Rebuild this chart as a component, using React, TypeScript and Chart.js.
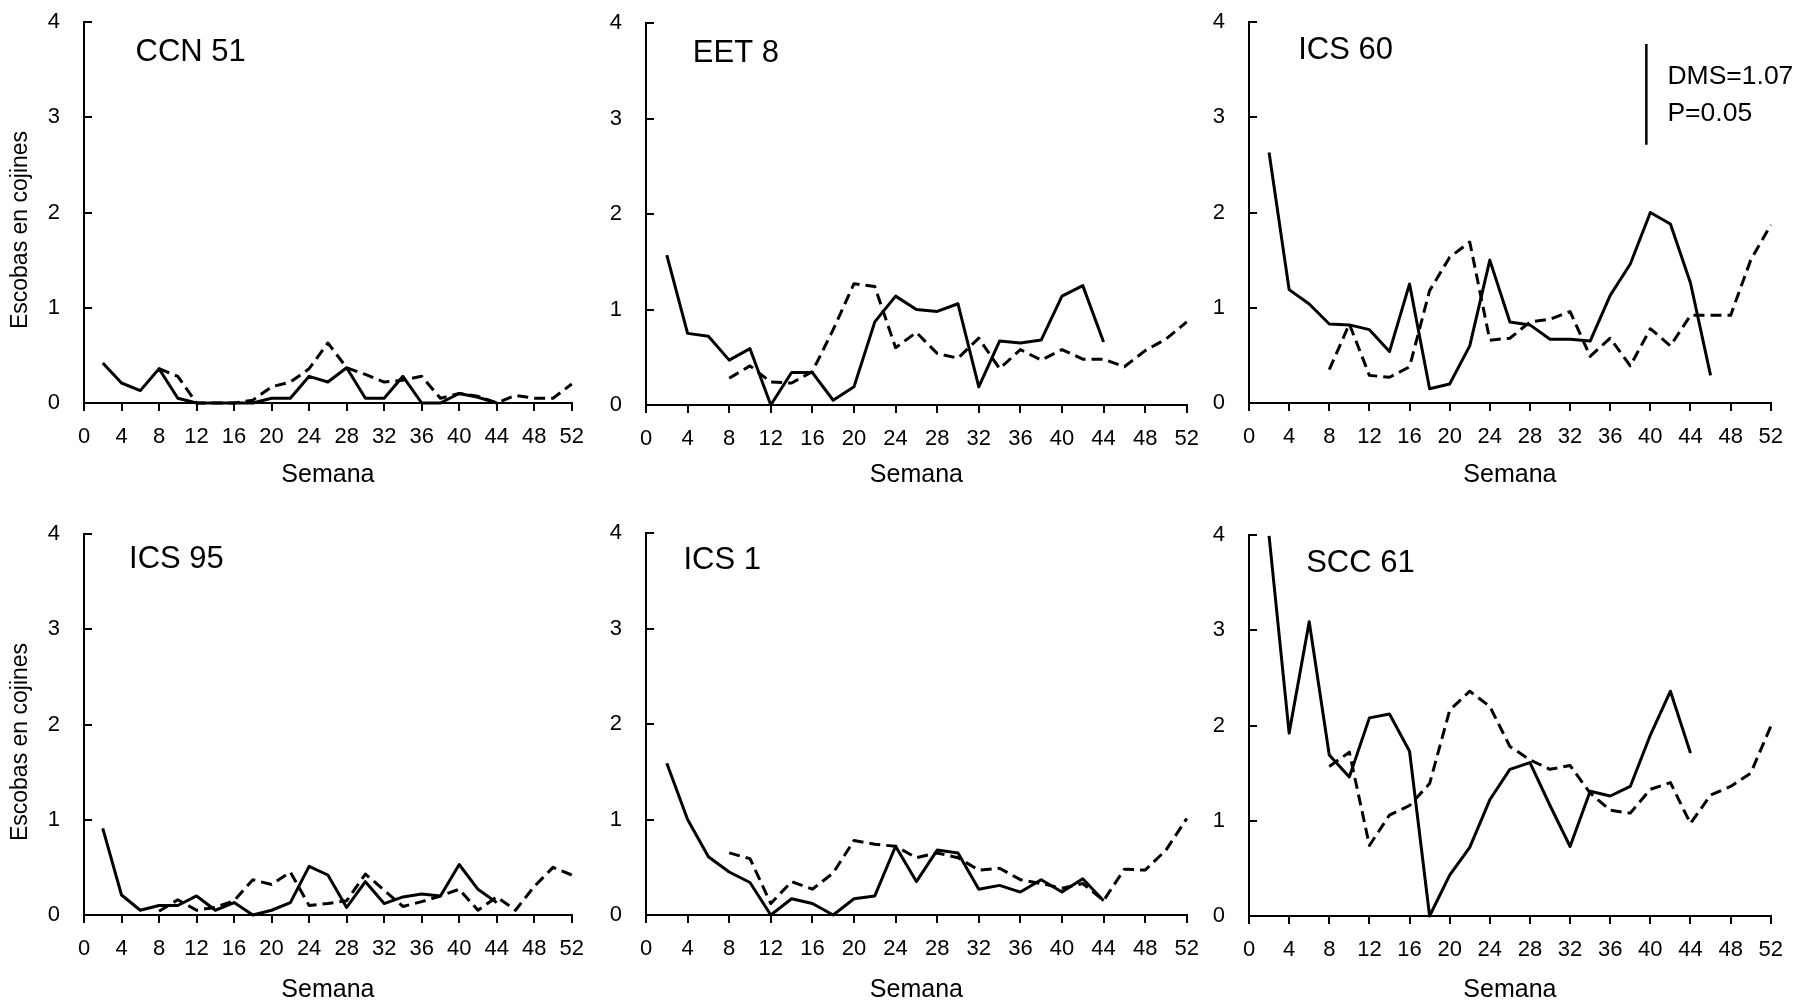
import React, { useEffect, useRef } from "react";
import { Chart, registerables } from "chart.js";

Chart.register(...registerables);

const FONT = "'Liberation Sans', Arial, sans-serif";

// ---------- data ----------
const xTicks = [0, 4, 8, 12, 16, 20, 24, 28, 32, 36, 40, 44, 48, 52];
const yTicks = [0, 1, 2, 3, 4];

const solidWeeks = [2, 4, 6, 8, 10, 12, 14, 16, 18, 20, 22, 24, 26, 28, 30, 32, 34, 36, 38, 40, 42, 44];
const solidWeeksLong = [2, 4, 6, 8, 10, 12, 14, 16, 18, 20, 22, 24, 26, 28, 30, 32, 34, 36, 38, 40, 42, 44, 46];
const dashedWeeks = [8, 10, 12, 14, 16, 18, 20, 22, 24, 26, 28, 30, 32, 34, 36, 38, 40, 42, 44, 46, 48, 50, 52];

const panelTitles = ["CCN 51", "EET 8", "ICS 60", "ICS 95", "ICS 1", "SCC 61"];

const ccn51Solid = [0.42, 0.21, 0.13, 0.36, 0.05, 0, 0, 0, 0, 0.05, 0.05, 0.28, 0.22, 0.37, 0.05, 0.05, 0.28, 0, 0, 0.1, 0.06, 0];
const ccn51Dashed = [0.36, 0.28, 0, 0, 0, 0.03, 0.17, 0.22, 0.36, 0.63, 0.37, 0.3, 0.22, 0.24, 0.28, 0.05, 0.1, 0.07, 0, 0.08, 0.05, 0.05, 0.2];

const eet8Solid = [1.57, 0.75, 0.72, 0.47, 0.59, 0, 0.34, 0.34, 0.05, 0.19, 0.87, 1.14, 1.0, 0.98, 1.06, 0.19, 0.67, 0.65, 0.68, 1.14, 1.25, 0.66];
const eet8Dashed = [0.28, 0.41, 0.24, 0.23, 0.35, 0.79, 1.27, 1.24, 0.6, 0.76, 0.54, 0.49, 0.7, 0.38, 0.58, 0.47, 0.58, 0.48, 0.48, 0.4, 0.57, 0.69, 0.87];

const ics60Solid = [2.63, 1.19, 1.04, 0.83, 0.82, 0.77, 0.54, 1.25, 0.15, 0.2, 0.6, 1.5, 0.85, 0.82, 0.67, 0.67, 0.65, 1.13, 1.46, 2.0, 1.88, 1.26, 0.29];
const ics60Dashed = [0.35, 0.83, 0.29, 0.27, 0.38, 1.18, 1.53, 1.69, 0.66, 0.68, 0.85, 0.88, 0.96, 0.49, 0.68, 0.39, 0.78, 0.6, 0.92, 0.92, 0.92, 1.5, 1.87];

const ics95Solid = [0.91, 0.21, 0.05, 0.1, 0.1, 0.2, 0.05, 0.13, 0, 0.05, 0.13, 0.51, 0.42, 0.08, 0.35, 0.12, 0.19, 0.22, 0.2, 0.53, 0.27, 0.13];
const ics95Dashed = [0.04, 0.16, 0.05, 0.08, 0.15, 0.37, 0.32, 0.45, 0.1, 0.12, 0.15, 0.43, 0.26, 0.09, 0.14, 0.2, 0.27, 0.05, 0.19, 0.05, 0.3, 0.5, 0.42];

const ics1Solid = [1.59, 1.0, 0.61, 0.45, 0.34, 0, 0.17, 0.12, 0, 0.17, 0.2, 0.72, 0.35, 0.68, 0.65, 0.27, 0.31, 0.24, 0.37, 0.24, 0.38, 0.15];
const ics1Dashed = [0.65, 0.59, 0.12, 0.35, 0.27, 0.44, 0.78, 0.74, 0.72, 0.6, 0.65, 0.6, 0.47, 0.49, 0.37, 0.33, 0.28, 0.33, 0.15, 0.48, 0.47, 0.68, 1.01];

const scc61Solid = [3.99, 1.92, 3.09, 1.69, 1.46, 2.08, 2.12, 1.73, 0, 0.43, 0.72, 1.22, 1.54, 1.61, 1.16, 0.73, 1.31, 1.26, 1.36, 1.9, 2.36, 1.71];
const scc61Dashed = [1.57, 1.72, 0.74, 1.06, 1.16, 1.39, 2.16, 2.36, 2.2, 1.78, 1.64, 1.54, 1.58, 1.29, 1.11, 1.08, 1.33, 1.4, 0.97, 1.27, 1.36, 1.5, 1.99];

const dmsBarWeeks = [39.6, 39.6];
const dmsBarValues = [2.71, 3.77];
const dmsLabels = ["DMS=1.07", "P=0.05"];

const xAxisTitle = "Semana";
const yAxisTitle = "Escobas en cojines";

// ---------- layout ----------
const YW = 81;
const PR = 25;
const PT = 38;

type Panel = {
  title: string;
  solidW: number[];
  solid: number[];
  dashed: number[];
  L: number; R: number; T: number; B: number;
  XH: number;
  tw: number; tv: number;
  yTitle: boolean;
  dms: boolean;
};

const panels: Panel[] = [
  { title: panelTitles[0], solidW: solidWeeks, solid: ccn51Solid, dashed: ccn51Dashed, L: 84, R: 572, T: 22, B: 403, XH: 91, tw: 5.5, tv: 3.68, yTitle: true, dms: false },
  { title: panelTitles[1], solidW: solidWeeks, solid: eet8Solid, dashed: eet8Dashed, L: 646, R: 1187, T: 23, B: 405, XH: 89, tw: 4.5, tv: 3.68, yTitle: false, dms: false },
  { title: panelTitles[2], solidW: solidWeeksLong, solid: ics60Solid, dashed: ics60Dashed, L: 1249, R: 1771, T: 22, B: 403, XH: 91, tw: 4.9, tv: 3.7, yTitle: false, dms: true },
  { title: panelTitles[3], solidW: solidWeeks, solid: ics95Solid, dashed: ics95Dashed, L: 84, R: 572, T: 534, B: 915, XH: 94, tw: 4.8, tv: 3.73, yTitle: true, dms: false },
  { title: panelTitles[4], solidW: solidWeeks, solid: ics1Solid, dashed: ics1Dashed, L: 646, R: 1187, T: 533, B: 915, XH: 94, tw: 3.6, tv: 3.71, yTitle: false, dms: false },
  { title: panelTitles[5], solidW: solidWeeks, solid: scc61Solid, dashed: scc61Dashed, L: 1249, R: 1771, T: 535, B: 916, XH: 93, tw: 5.7, tv: 3.7, yTitle: false, dms: false },
];

const panelTextPlugin = {
  id: "panelText",
  afterDraw(chart: any, _args: any, opts: any) {
    const { ctx, chartArea, scales } = chart;
    const x = scales.x;
    const y = scales.y;
    ctx.save();
    // inward y tick marks
    ctx.strokeStyle = "#000";
    ctx.lineWidth = 2;
    yTicks.forEach((v) => {
      if (v === 0) return;
      const py = Math.round(y.getPixelForValue(v));
      ctx.beginPath();
      ctx.moveTo(chartArea.left, py);
      ctx.lineTo(chartArea.left + 8, py);
      ctx.stroke();
    });
    ctx.fillStyle = "#000";
    ctx.textBaseline = "middle";
    ctx.textAlign = "left";
    ctx.font = `31px ${FONT}`;
    ctx.fillText(opts.title, x.getPixelForValue(opts.tw), y.getPixelForValue(opts.tv));
    if (opts.yTitle) {
      ctx.save();
      ctx.translate(chartArea.left - 63, chartArea.top + 208);
      ctx.rotate(-Math.PI / 2);
      ctx.textAlign = "center";
      ctx.font = `23px ${FONT}`;
      ctx.fillText(yAxisTitle, 0, 0);
      ctx.restore();
    }
    if (opts.dms) {
      ctx.font = `26.5px ${FONT}`;
      ctx.fillText(dmsLabels[0], x.getPixelForValue(41.7), y.getPixelForValue(3.43));
      ctx.fillText(dmsLabels[1], x.getPixelForValue(41.7), y.getPixelForValue(3.04));
    }
    ctx.restore();
  },
};

function PanelChart({ p }: { p: Panel }) {
  const ref = useRef<HTMLCanvasElement>(null);
  useEffect(() => {
    if (!ref.current) return;
    const datasets: any[] = [
      {
        data: p.solidW.map((w, i) => ({ x: w, y: p.solid[i] })),
        borderColor: "#000",
        borderWidth: 3,
        pointRadius: 0,
        tension: 0,
        borderJoinStyle: "round",
        fill: false,
        clip: 10,
      },
      {
        data: dashedWeeks.map((w, i) => ({ x: w, y: p.dashed[i] })),
        borderColor: "#000",
        borderWidth: 3,
        borderDash: [11, 6],
        pointRadius: 0,
        tension: 0,
        borderJoinStyle: "round",
        fill: false,
        clip: 10,
      },
    ];
    if (p.dms) {
      datasets.push({
        data: dmsBarWeeks.map((w, i) => ({ x: w, y: dmsBarValues[i] })),
        borderColor: "#000",
        borderWidth: 2.5,
        pointRadius: 0,
        fill: false,
        clip: 10,
      });
    }
    const chart = new Chart(ref.current, {
      type: "line",
      data: { datasets },
      options: {
        animation: false,
        responsive: true,
        maintainAspectRatio: false,
        layout: { padding: { top: PT, right: PR, left: 0, bottom: 0 } },
        plugins: {
          legend: { display: false },
          tooltip: { enabled: false },
          panelText: { title: p.title, tw: p.tw, tv: p.tv, yTitle: p.yTitle, dms: p.dms },
        } as any,
        scales: {
          x: {
            type: "linear",
            min: 0,
            max: 52,
            afterBuildTicks: (s: any) => {
              s.ticks = xTicks.map((v) => ({ value: v }));
            },
            afterFit: (s: any) => {
              s.height = p.XH;
            },
            ticks: {
              autoSkip: false,
              maxRotation: 0,
              minRotation: 0,
              color: "#000",
              padding: 13,
              font: { family: FONT, size: 22 },
            },
            grid: {
              display: true,
              drawOnChartArea: false,
              drawTicks: true,
              tickLength: 8,
              color: "#000",
              lineWidth: 2,
            },
            border: { display: true, color: "#000", width: 2 },
            title: {
              display: true,
              text: xAxisTitle,
              color: "#000",
              font: { family: FONT, size: 25 },
              padding: { top: 0, bottom: 3.5 },
            },
          },
          y: {
            type: "linear",
            min: 0,
            max: 4,
            afterBuildTicks: (s: any) => {
              s.ticks = yTicks.map((v) => ({ value: v }));
            },
            afterFit: (s: any) => {
              s.width = YW;
            },
            ticks: {
              color: "#000",
              padding: 24,
              font: { family: FONT, size: 22 },
            },
            grid: { display: false, drawTicks: false },
            border: { display: true, color: "#000", width: 2 },
          },
        },
      },
      plugins: [panelTextPlugin as any],
    });
    return () => chart.destroy();
  }, [p]);

  const style: React.CSSProperties = {
    position: "absolute",
    left: p.L - YW,
    top: p.T - PT,
    width: p.R - p.L + YW + PR,
    height: p.B - p.T + PT + p.XH,
  };
  return (
    <div style={style}>
      <canvas ref={ref} style={{ display: "block" }} />
    </div>
  );
}

export default function App() {
  return (
    <div
      style={{
        position: "absolute",
        left: 0,
        top: 0,
        width: 1808,
        height: 1000,
        overflow: "hidden",
        background: "#fff",
      }}
    >
      {panels.map((p, i) => (
        <PanelChart key={i} p={p} />
      ))}
    </div>
  );
}
